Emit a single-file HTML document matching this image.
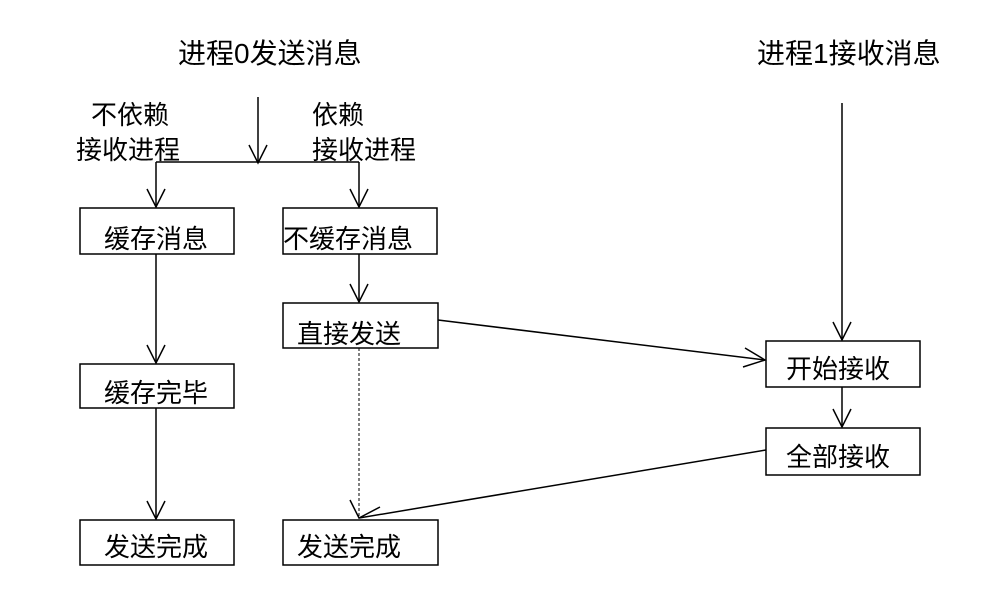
<!DOCTYPE html>
<html><head><meta charset="utf-8"><style>
html,body{margin:0;padding:0;background:#fff;}
svg text{font-family:"Liberation Sans","Noto Sans CJK SC",sans-serif;fill:#000;}
</style></head><body>
<svg width="1001" height="600" xmlns="http://www.w3.org/2000/svg">
<g stroke="#000" stroke-width="1.5" fill="none">
<rect x="80" y="208" width="154" height="46"/>
<rect x="283" y="208" width="154" height="46"/>
<rect x="283" y="303" width="155" height="45"/>
<rect x="80" y="364" width="154" height="44"/>
<rect x="80" y="520" width="154" height="45"/>
<rect x="283" y="520" width="155" height="45"/>
<rect x="766" y="341" width="154" height="46"/>
<rect x="766" y="428" width="154" height="47"/>
<!-- lines -->
<path d="M258 97 V163"/><path d="M249 145 L258 163 L267 145"/>
<path d="M156 162 H359"/>
<path d="M156 162 V207"/><path d="M147 189 L156 207 L165 189"/>
<path d="M359 162 V207"/><path d="M350 189 L359 207 L368 189"/>
<path d="M156 254 V363"/><path d="M147 345 L156 363 L165 345"/>
<path d="M156 408 V519"/><path d="M147 501 L156 519 L165 501"/>
<path d="M359 254 V302"/><path d="M350 284 L359 302 L368 284"/>
<path d="M359 348 V518" stroke-dasharray="3,2" stroke-width="1"/>
<path d="M438 320 L765 360"/><path d="M745 348 L765 360 L743 367"/>
<path d="M842 103 V340"/><path d="M833 322 L842 340 L851 322"/>
<path d="M842 387 V427"/><path d="M833 409 L842 427 L851 409"/>
<path d="M766 450 L359 518"/><path d="M350 500 L359 518 L380 507"/>
</g>
<g font-size="28">
<text x="178" y="63">进程0发送消息</text>
<text x="757" y="63">进程1接收消息</text>
</g>
<g font-size="26">
<text x="91" y="124">不依赖</text>
<text x="76" y="159">接收进程</text>
<text x="312" y="124">依赖</text>
<text x="312" y="159">接收进程</text>
<text x="104" y="248">缓存消息</text>
<text x="283" y="248">不缓存消息</text>
<text x="297" y="343">直接发送</text>
<text x="104" y="402">缓存完毕</text>
<text x="104" y="556">发送完成</text>
<text x="297" y="556">发送完成</text>
<text x="786" y="378">开始接收</text>
<text x="786" y="466">全部接收</text>
</g>
</svg>
</body></html>
